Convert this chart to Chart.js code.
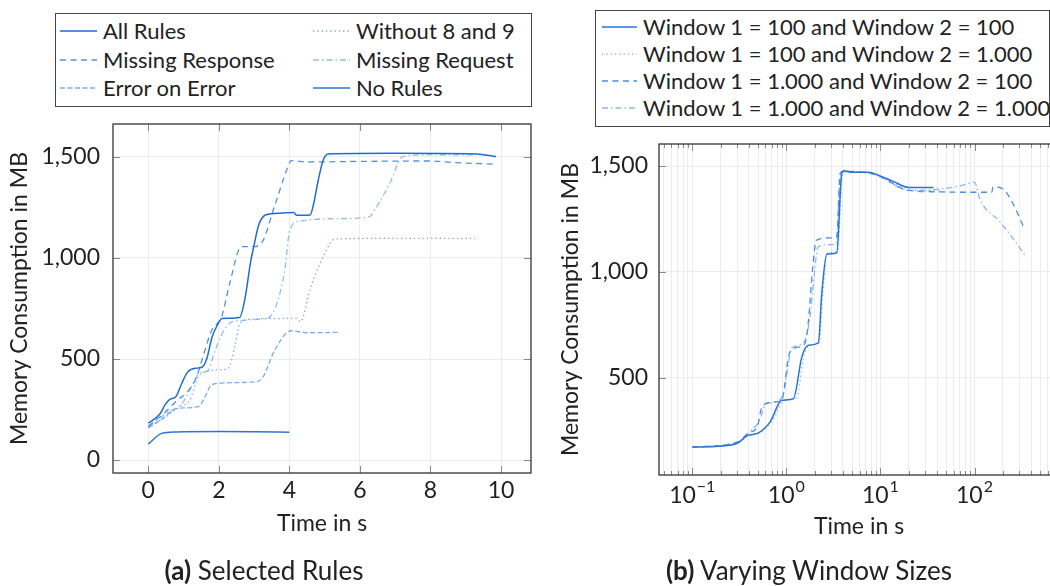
<!DOCTYPE html>
<html>
<head>
<meta charset="utf-8">
<script src="https://cdn.jsdelivr.net/npm/chart.js@4.4.1/dist/chart.umd.min.js"></script>
<style>
html, body { margin: 0; padding: 0; overflow: hidden; background: #fff; }
#page { position: relative; width: 1050px; height: 586px; overflow: hidden; font-family: Lato, sans-serif; color: #222; }
#page canvas { position: absolute; top: 0; }
.legend { position: absolute; box-sizing: border-box; border: 1px solid #444; background: #fff; }
.legend .item { position: absolute; display: flex; align-items: center; white-space: nowrap; font-size: 22px; line-height: 1; transform: translateY(-50%); }
.legend .item svg { margin-right: 6px; }
.caption { position: absolute; font-size: 26px; white-space: nowrap; transform: translate(-50%, -50%); }
</style>
</head>
<body>
<div id="page">
  <canvas id="rulesChart" width="545" height="586" style="left:0"></canvas>
  <canvas id="windowChart" width="530" height="586" style="left:545px"></canvas>
  <div class="legend" id="rulesLegend" style="left:55px;top:13px;width:477px;height:94px"></div>
  <div class="legend" id="windowLegend" style="left:595px;top:10px;width:455px;height:117px"></div>
  <div class="caption" style="left:264px;top:570px"><b>(a)</b> Selected Rules</div>
  <div class="caption" style="left:809px;top:570px"><b>(b)</b> Varying Window Sizes</div>
</div>
<script>
// ---- (a) selected rules, time in s / memory in MB ----
const allRulesT  = [0, 0.33, 0.47, 0.61, 0.78, 0.95, 1.11, 1.33, 1.52, 1.66, 1.81, 1.95, 2.09, 2.59, 2.75, 2.9, 2.99, 3.13, 3.32, 3.65, 4.12, 4.21, 4.59, 4.68, 4.82, 4.96, 5.1, 7.0, 9.3, 9.86];
const allRulesMB = [182, 228, 272, 300, 313, 380, 434, 454, 459, 503, 610, 665, 701, 706, 808, 980, 1056, 1163, 1213, 1221, 1225, 1211, 1213, 1262, 1386, 1485, 1515, 1518, 1515, 1502];

const no89T  = [0, 0.5, 0.9, 1.18, 1.42, 1.7, 1.94, 2.27, 2.45, 2.6, 2.88, 3.5, 4.2, 4.32, 4.58, 5.05, 5.29, 7.0, 9.26];
const no89MB = [160, 215, 265, 297, 412, 440, 446, 454, 560, 677, 697, 700, 701, 685, 842, 1040, 1094, 1097, 1097];

const missRespT  = [0, 0.5, 0.85, 1.1, 1.37, 1.6, 1.8, 2.08, 2.31, 2.64, 2.97, 3.21, 3.59, 3.96, 4.05, 4.5, 6.0, 8.0, 8.7, 9.87];
const missRespMB = [165, 240, 300, 335, 412, 540, 644, 709, 875, 1056, 1056, 1074, 1262, 1452, 1482, 1475, 1478, 1480, 1472, 1464];

const missReqT  = [0, 0.5, 1.0, 1.27, 1.45, 1.7, 1.85, 2.05, 2.31, 2.6, 3.0, 3.3, 3.45, 3.87, 4.01, 4.3, 5.5, 6.28, 6.42, 6.85, 7.22, 8.0, 9.3];
const missReqMB = [170, 230, 290, 380, 430, 445, 520, 610, 677, 690, 695, 700, 709, 940, 1139, 1183, 1195, 1205, 1238, 1370, 1502, 1511, 1510];

const errErrT  = [0, 0.4, 0.71, 1.0, 1.42, 1.6, 1.75, 1.94, 3.07, 3.26, 3.54, 3.92, 4.06, 4.48, 5.38];
const errErrMB = [160, 205, 248, 258, 264, 310, 363, 380, 388, 413, 528, 630, 640, 630, 632];

const noRulesT  = [0, 0.38, 0.8, 2.0, 3.0, 4.0];
const noRulesMB = [79, 132, 139, 141, 140, 138];

const rulesXTicks = [0, 2, 4, 6, 8, 10];
const rulesYTicks = [0, 500, 1000, 1500];

// ---- (b) window sizes, log time axis ----
const w100x100T  = [0.1, 0.19, 0.3, 0.39, 0.5, 0.67, 0.894, 1.19, 1.46, 1.71, 2.19, 2.38, 2.69, 3.44, 3.88, 4.1, 5, 7.45, 9.5, 14, 19.9, 36.6];
const w100x100MB = [172, 176, 190, 227, 238, 290, 393, 401, 597, 653, 664, 897, 1083, 1090, 1465, 1478, 1470, 1470, 1457, 1425, 1399, 1399];

const w100x1kT  = [0.1, 0.3, 0.4, 0.55, 0.72, 0.95, 1.28, 1.55, 1.8, 2.25, 2.45, 2.75, 3.5, 3.95, 4.2, 7.5, 10, 20, 30, 45];
const w100x1kMB = [172, 190, 228, 245, 300, 395, 405, 610, 655, 668, 900, 1090, 1098, 1465, 1475, 1468, 1450, 1390, 1383, 1385];

const w1kx100T  = [0.1, 0.3, 0.4, 0.49, 0.55, 0.7, 0.89, 1.09, 1.52, 1.64, 2.1, 2.8, 3.44, 3.72, 4.0, 7.5, 10, 20, 40, 80, 153, 157, 200, 240, 332];
const w1kx100MB = [172, 195, 240, 266, 361, 384, 392, 621, 653, 692, 1150, 1160, 1165, 1465, 1475, 1468, 1448, 1385, 1378, 1376, 1376, 1402, 1392, 1347, 1213];

const w1kx1kT  = [0.1, 0.3, 0.42, 0.52, 0.6, 0.75, 0.92, 1.15, 1.5, 1.75, 2.2, 2.8, 3.4, 3.65, 3.85, 4.3, 7.5, 10, 20, 40, 70, 100, 115, 187, 332, 345];
const w1kx1kMB = [172, 195, 248, 300, 372, 385, 420, 640, 660, 760, 1120, 1128, 1133, 1380, 1470, 1472, 1466, 1450, 1385, 1390, 1405, 1423, 1339, 1236, 1087, 1075];

const windowDecades = [0.1, 1, 10, 100];
const windowYTicks  = [500, 1000, 1500];

const FONT = 'Lato, sans-serif';
const TICK_FONT = { family: FONT, size: 23 };

const toPoints = (xs, ys) => xs.map((x, i) => ({ x: x, y: ys[i] }));

function series(label, xs, ys, color, dash, width) {
    return {
        label: label,
        data: toPoints(xs, ys),
        borderColor: color,
        borderDash: dash,
        borderWidth: width || 1.3,
        pointRadius: 0,
        cubicInterpolationMode: 'monotone',
        fill: false
    };
}

const DOTTED = [1.3, 3];
const DASHED = [6, 4.5];
const DENSE_DASHED = [5, 2.5];
const DASH_DOT = [6, 3, 1.5, 3];

const rulesSets = [
    series('All Rules', allRulesT, allRulesMB, '#1d6dd3', [], 1.5),
    series('Without 8 and 9', no89T, no89MB, '#6da5e8', DOTTED),
    series('Missing Response', missRespT, missRespMB, '#5492e0', DASHED),
    series('Missing Request', missReqT, missReqMB, '#92bdef', DASH_DOT),
    series('Error on Error', errErrT, errErrMB, '#7aaeea', DENSE_DASHED),
    series('No Rules', noRulesT, noRulesMB, '#2a76d6', [], 1.5)
];

const windowSets = [
    series('Window 1 = 100 and Window 2 = 100', w100x100T, w100x100MB, '#2a74d6', [], 1.5),
    series('Window 1 = 100 and Window 2 = 1.000', w100x1kT, w100x1kMB, '#86b6ee', DOTTED),
    series('Window 1 = 1.000 and Window 2 = 100', w1kx100T, w1kx100MB, '#4c8de0', DASHED),
    series('Window 1 = 1.000 and Window 2 = 1.000', w1kx1kT, w1kx1kMB, '#8ab9ef', DASH_DOT)
];

// frame, inner tick marks and (for log axes) 10^k labels
const framePlugin = {
    id: 'frame',
    afterDatasetsDraw(chart) {
        const { ctx, chartArea: a, scales } = chart;
        ctx.save();
        ctx.lineWidth = 1;
        ctx.strokeStyle = '#8a8a8a';
        ctx.beginPath();
        scales.x.ticks.forEach(t => {
            const px = Math.round(scales.x.getPixelForValue(t.value)) + 0.5;
            const len = t.major ? 7 : 4;
            ctx.moveTo(px, a.bottom); ctx.lineTo(px, a.bottom - len);
            ctx.moveTo(px, a.top); ctx.lineTo(px, a.top + len);
        });
        scales.y.ticks.forEach(t => {
            const py = Math.round(scales.y.getPixelForValue(t.value)) + 0.5;
            ctx.moveTo(a.left, py); ctx.lineTo(a.left + 7, py);
            ctx.moveTo(a.right, py); ctx.lineTo(a.right - 7, py);
        });
        ctx.stroke();
        ctx.strokeStyle = '#333';
        ctx.lineWidth = 1.3;
        ctx.strokeRect(a.left, a.top, a.right - a.left, a.bottom - a.top);

        if (scales.x.type === 'logarithmic') {
            ctx.fillStyle = '#222';
            ctx.textBaseline = 'middle';
            scales.x.ticks.filter(t => t.major).forEach(t => {
                const px = scales.x.getPixelForValue(t.value);
                const exp = String(Math.round(Math.log10(t.value))).replace('-', '\u2212');
                ctx.font = '23px ' + FONT;
                const wBase = ctx.measureText('10').width;
                ctx.font = '16px ' + FONT;
                const wExp = ctx.measureText(exp).width;
                const x0 = px - (wBase + wExp + 1) / 2;
                const y0 = a.bottom + 21;
                ctx.font = '23px ' + FONT;
                ctx.textAlign = 'left';
                ctx.fillText('10', x0, y0);
                ctx.font = '16px ' + FONT;
                ctx.fillText(exp, x0 + wBase + 1, y0 - 9);
            });
        }
        ctx.restore();
    }
};

function fixedWidth(w) {
    return scale => { scale.width = w; scale.paddingTop = 0; scale.paddingBottom = 0; };
}
function fixedHeight(h) {
    return scale => { scale.height = h; scale.paddingLeft = 0; scale.paddingRight = 0; };
}
function setTicks(values, majors) {
    return scale => {
        scale.ticks = values.map(v => ({ value: v, major: majors ? majors.includes(v) : true }));
    };
}

const gridStyle = { color: '#ececec', lineWidth: 1, drawTicks: false };

function yTitle(pad) {
    return {
        display: true,
        text: 'Memory Consumption in MB',
        color: '#222',
        font: { family: FONT, size: 23 },
        padding: { top: pad, bottom: 0 }
    };
}
const xTitle = {
    display: true,
    text: 'Time in s',
    color: '#222',
    font: { family: FONT, size: 23 },
    padding: { top: 0, bottom: 0 }
};

function baseOptions() {
    return {
        responsive: false,
        animation: false,
        events: [],
        plugins: { legend: { display: false }, tooltip: { enabled: false } }
    };
}

// (a)
const rulesOpts = baseOptions();
rulesOpts.layout = { padding: { left: 0, right: 14, top: 124, bottom: 49 } };
rulesOpts.scales = {
    x: {
        type: 'linear', min: -1, max: 10.85,
        grid: gridStyle, border: { display: false },
        afterBuildTicks: setTicks(rulesXTicks),
        afterFit: fixedHeight(64),
        ticks: { font: TICK_FONT, color: '#222', padding: 4, maxRotation: 0 },
        title: xTitle
    },
    y: {
        type: 'linear', min: -64, max: 1663,
        grid: gridStyle, border: { display: false },
        afterBuildTicks: setTicks(rulesYTicks),
        afterFit: fixedWidth(113),
        ticks: { font: TICK_FONT, color: '#222', padding: 13, callback: v => v.toLocaleString('en-US') },
        title: yTitle(6)
    }
};
new Chart(document.getElementById('rulesChart'), {
    type: 'line',
    data: { datasets: rulesSets },
    options: rulesOpts,
    plugins: [framePlugin]
});

// (b)
const logTicks = [];
for (let e = -2; e <= 2; e++) {
    for (let m = 1; m <= 9; m++) {
        const v = m * Math.pow(10, e);
        if (v >= 0.045 && v <= 790) logTicks.push(+v.toPrecision(2));
    }
}
const windowOpts = baseOptions();
windowOpts.layout = { padding: { left: 0, right: 16, top: 144, bottom: 46 } };
windowOpts.scales = {
    x: {
        type: 'logarithmic', min: 0.0443, max: 791,
        grid: gridStyle, border: { display: false },
        afterBuildTicks: setTicks(logTicks, windowDecades),
        afterFit: fixedHeight(65),
        ticks: { display: false },
        title: xTitle
    },
    y: {
        type: 'linear', min: 40, max: 1604,
        grid: gridStyle, border: { display: false },
        afterBuildTicks: setTicks(windowYTicks),
        afterFit: fixedWidth(114),
        ticks: { font: TICK_FONT, color: '#222', padding: 11, callback: v => v.toLocaleString('en-US') },
        title: yTitle(12)
    }
};
new Chart(document.getElementById('windowChart'), {
    type: 'line',
    data: { datasets: windowSets },
    options: windowOpts,
    plugins: [framePlugin]
});

// legends built from the dataset styles
function buildLegend(boxId, sets, cols, rowYs, colXs, sampleW) {
    const box = document.getElementById(boxId);
    sets.forEach((ds, i) => {
        const r = Math.floor(i / cols), c = i % cols;
        const el = document.createElement('div');
        el.className = 'item';
        el.style.left = colXs[c] + 'px';
        el.style.top = rowYs[r] + 'px';
        const dash = ds.borderDash.length ? ds.borderDash.join(' ') : 'none';
        el.innerHTML = '<svg width="' + sampleW + '" height="4"><line x1="0" y1="2" x2="' + sampleW +
            '" y2="2" stroke="' + ds.borderColor + '" stroke-width="1.3" stroke-dasharray="' + dash + '"/></svg>' +
            '<span>' + ds.label + '</span>';
        box.appendChild(el);
    });
}
buildLegend('rulesLegend', rulesSets, 2, [17, 46, 74], [4, 257], 37);
buildLegend('windowLegend', windowSets, 1, [16, 43, 70, 97], [6], 35);
</script>
</body>
</html>
